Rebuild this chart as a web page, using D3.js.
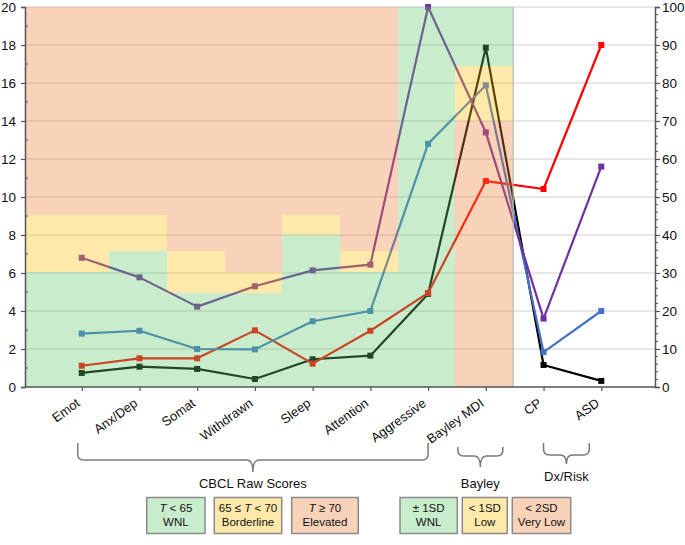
<!doctype html>
<html lang="en">
<head>
<meta charset="utf-8" />
<title>CBCL raw scores, Bayley MDI and Dx/Risk</title>
<script src="https://cdn.jsdelivr.net/npm/d3@7"></script>
<style>
  body { margin: 0; background: #fff; }
  text { font-family: "Liberation Sans", Arial, sans-serif; fill: #111; }
</style>
</head>
<body>
<script>
var categories = ["Emot", "Anx/Dep", "Somat", "Withdrawn", "Sleep", "Attention", "Aggressive", "Bayley MDI", "CP", "ASD"];
var cbclCategories = categories.slice(0, 7);

// CBCL raw-score cut-offs per scale (left axis): T = 65 and T = 70
var cbclBorderlineFrom = [6.05, 7.15, 4.95, 4.95, 8.0, 6.05, 20];
var cbclElevatedFrom = [9.05, 9.05, 7.15, 6.05, 9.05, 7.15, 20];
// Bayley MDI cut-offs (right axis)
var bayleyVeryLowBelow = 70;
var bayleyLowBelow = 84.5;

var leftTicks = [0, 2, 4, 6, 8, 10, 12, 14, 16, 18, 20];
var rightTicks = [0, 10, 20, 30, 40, 50, 60, 70, 80, 90, 100];

// seven CBCL raw scores (left axis), then Bayley MDI, CP, ASD (right axis)
var purpleCbcl = [6.8, 5.77, 4.23, 5.3, 6.14, 6.44, 20];
var purpleRight = [67, 18, 58];
var blueCbcl = [2.81, 2.96, 2.0, 1.98, 3.46, 4.0, 12.8];
var blueRight = [79.4, 9.2, 20];
var redCbcl = [1.12, 1.51, 1.51, 2.98, 1.23, 2.96, 4.95];
var redRight = [54.2, 52.1, 90];
var blackCbcl = [0.74, 1.07, 0.95, 0.42, 1.46, 1.65, 4.9];
var blackRight = [89.3, 5.8, 1.6];

var legendCbcl = [["T < 65", "WNL"], ["65 \u2264 T < 70", "Borderline"], ["T \u2265 70", "Elevated"]];
var legendBayley = [["\u00b1 1SD", "WNL"], ["< 1SD", "Low"], ["< 2SD", "Very Low"]];

var w = 685, h = 545;
var plotL = 25, plotR = 655, plotT = 7, plotB = 387;

var zoneFill = { wnl: "rgb(98,201,109)", border: "rgb(252,189,12)", high: "rgb(235,126,55)" };
var boxFill = { wnl: "#c8eccc", border: "#fee8aa", high: "#f8d2b9" };

var series = [
  { color: "#000000", cbcl: blackCbcl, right: blackRight },
  { color: "#ff0000", cbcl: redCbcl, right: redRight },
  { color: "#4472c4", cbcl: blueCbcl, right: blueRight },
  { color: "#7030a0", cbcl: purpleCbcl, right: purpleRight }
];

var svg = d3.select("body").append("svg")
  .attr("width", w)
  .attr("height", h);

var x = d3.scalePoint().domain(categories).range([24, 659]).padding(1);
var yL = d3.scaleLinear().domain([0, 20]).range([plotB, plotT]);
var yR = d3.scaleLinear().domain([0, 100]).range([plotB, plotT]);

function mid(a, b) { return (x(a) + x(b)) / 2 - 1.5; }

// gridlines
svg.append("g").selectAll("line")
  .data(leftTicks.slice(1))
  .enter().append("line")
  .attr("x1", plotL).attr("x2", plotR)
  .attr("y1", function(d) { return yL(d); })
  .attr("y2", function(d) { return yL(d); })
  .attr("stroke", "#cfcfcf")
  .attr("stroke-width", 1.2);

// lines and markers
function pts(s) {
  return categories.map(function(c, i) {
    return [x(c), i < 7 ? yL(s.cbcl[i]) : yR(s.right[i - 7])];
  });
}
var line = d3.line();
series.forEach(function(s) {
  var p = pts(s);
  svg.append("path")
    .attr("d", line(p))
    .attr("fill", "none")
    .attr("stroke", s.color)
    .attr("stroke-width", 2.2)
    .attr("stroke-linejoin", "round");
  svg.append("g").selectAll("rect")
    .data(p)
    .enter().append("rect")
    .attr("x", function(d) { return d[0] - 3; })
    .attr("y", function(d) { return d[1] - 3; })
    .attr("width", 6).attr("height", 6)
    .attr("fill", s.color);
});

// translucent clinical ranges laid over the lines
var zones = [];
cbclCategories.forEach(function(c, i) {
  var left = i == 0 ? plotL : mid(categories[i - 1], c);
  var right = mid(c, categories[i + 1]);
  zones.push({ x0: left, x1: right, y0: yL(0), y1: yL(cbclBorderlineFrom[i]), k: "wnl" });
  zones.push({ x0: left, x1: right, y0: yL(cbclBorderlineFrom[i]), y1: yL(cbclElevatedFrom[i]), k: "border" });
  zones.push({ x0: left, x1: right, y0: yL(cbclElevatedFrom[i]), y1: yL(20), k: "high" });
});
var bL = mid("Aggressive", "Bayley MDI"), bR = mid("Bayley MDI", "CP");
zones.push({ x0: bL, x1: bR, y0: yR(0), y1: yR(bayleyVeryLowBelow), k: "high" });
zones.push({ x0: bL, x1: bR, y0: yR(bayleyVeryLowBelow), y1: yR(bayleyLowBelow), k: "border" });
zones.push({ x0: bL, x1: bR, y0: yR(bayleyLowBelow), y1: yR(100), k: "wnl" });

svg.append("g").selectAll("rect")
  .data(zones.filter(function(z) { return z.y0 - z.y1 > 0.1; }))
  .enter().append("rect")
  .attr("x", function(d) { return d.x0; })
  .attr("y", function(d) { return d.y1; })
  .attr("width", function(d) { return d.x1 - d.x0; })
  .attr("height", function(d) { return d.y0 - d.y1; })
  .attr("fill", function(d) { return zoneFill[d.k]; })
  .attr("fill-opacity", 0.35)
  .attr("shape-rendering", "crispEdges");

svg.append("line")
  .attr("x1", bR).attr("x2", bR)
  .attr("y1", plotT).attr("y2", plotB)
  .attr("stroke", "#b8b8b8").attr("stroke-width", 1.2);

// axes
var axisColor = "#555";
var gL = svg.append("g").attr("transform", "translate(" + plotL + ",0)")
  .call(d3.axisLeft(yL).tickValues(leftTicks).tickSize(4).tickPadding(5).tickFormat(d3.format("d")));
var gR = svg.append("g").attr("transform", "translate(" + plotR + ",0)")
  .call(d3.axisRight(yR).tickValues(rightTicks).tickSize(5).tickPadding(2).tickFormat(d3.format("d")));
[gL, gR].forEach(function(g) {
  g.select(".domain").attr("stroke", axisColor).attr("stroke-width", 1.5);
  g.selectAll(".tick line").attr("stroke", axisColor).attr("stroke-width", 1.2);
  g.selectAll(".tick text").attr("font-size", "13.5px").attr("fill", "#111")
    .attr("font-family", "Liberation Sans, Arial, sans-serif");
});

// minor ticks
svg.append("g").selectAll("line")
  .data(d3.range(1, 20, 2))
  .enter().append("line")
  .attr("x1", plotL).attr("x2", plotL + 3)
  .attr("y1", function(d) { return yL(d); }).attr("y2", function(d) { return yL(d); })
  .attr("stroke", axisColor);
svg.append("g").selectAll("line")
  .data(d3.range(2, 100, 2).filter(function(d) { return d % 10 != 0; }))
  .enter().append("line")
  .attr("x1", plotR).attr("x2", plotR + 3)
  .attr("y1", function(d) { return yR(d); }).attr("y2", function(d) { return yR(d); })
  .attr("stroke", axisColor);

svg.append("line")
  .attr("x1", plotL).attr("x2", plotR)
  .attr("y1", plotB).attr("y2", plotB)
  .attr("stroke", axisColor).attr("stroke-width", 1.5);

var gX = svg.append("g").attr("transform", "translate(0," + plotB + ")")
  .call(d3.axisBottom(x).tickSize(4).tickFormat(""));
gX.select(".domain").remove();
gX.selectAll(".tick line").attr("stroke", axisColor).attr("stroke-width", 1.2);

svg.append("g").selectAll("text")
  .data(categories)
  .enter().append("text")
  .attr("transform", function(d) { return "translate(" + (x(d) - 1) + "," + (plotB + 18) + ") rotate(-36)"; })
  .attr("text-anchor", "end")
  .attr("font-size", "13px")
  .text(function(d) { return d; });

// braces
function brace(x1, x2, xc, yTop, yFlat, yTip) {
  var r = 6;
  return "M" + x1 + "," + yTop +
    "L" + x1 + "," + (yFlat - r) +
    "Q" + x1 + "," + yFlat + " " + (x1 + r) + "," + yFlat +
    "L" + (xc - r) + "," + yFlat +
    "Q" + xc + "," + yFlat + " " + xc + "," + yTip +
    "Q" + xc + "," + yFlat + " " + (xc + r) + "," + yFlat +
    "L" + (x2 - r) + "," + yFlat +
    "Q" + x2 + "," + yFlat + " " + x2 + "," + (yFlat - r) +
    "L" + x2 + "," + yTop;
}
var braces = [
  { d: brace(x("Emot") - 4, x("Aggressive"), (x("Emot") - 4 + x("Aggressive")) / 2, 443, 460, 472), label: "CBCL Raw Scores", ty: 488 },
  { d: brace(x("Bayley MDI") - 28, x("Bayley MDI") + 17, x("Bayley MDI") - 5.5, 447, 456, 467), label: "Bayley", ty: 488, cx: x("Bayley MDI") - 5.5 },
  { d: brace(x("CP"), x("ASD") - 12, (x("CP") + x("ASD") - 12) / 2, 443, 455, 464), label: "Dx/Risk", ty: 481, cx: (x("CP") + x("ASD") - 12) / 2 }
];
braces[0].cx = (x("Emot") - 4 + x("Aggressive")) / 2;
braces.forEach(function(b) {
  svg.append("path").attr("d", b.d)
    .attr("fill", "none").attr("stroke", "#7a7a7a").attr("stroke-width", 1.5);
  svg.append("text").attr("x", b.cx).attr("y", b.ty)
    .attr("text-anchor", "middle").attr("font-size", "13px").text(b.label);
});

// legend boxes
var boxX = [146.7, 214.3, 291.7, 400, 462.3, 512.3];
var boxW = [58.3, 67.4, 66.6, 57.3, 45, 58.4];
var boxK = ["wnl", "border", "high", "wnl", "border", "high"];
var legendItems = legendCbcl.concat(legendBayley);
legendItems.forEach(function(lines, i) {
  svg.append("rect")
    .attr("x", boxX[i]).attr("y", 497.5)
    .attr("width", boxW[i]).attr("height", 36)
    .attr("fill", boxFill[boxK[i]])
    .attr("stroke", "#8a8a8a").attr("stroke-width", 1.5);
  lines.forEach(function(s, j) {
    var t = svg.append("text")
      .attr("x", boxX[i] + boxW[i] / 2)
      .attr("y", 511.5 + j * 14.5)
      .attr("text-anchor", "middle")
      .attr("font-size", "11.5px");
    s.split(/(T)/).forEach(function(part) {
      if (part == "") return;
      t.append("tspan")
        .attr("font-style", part == "T" ? "italic" : "normal")
        .text(part);
    });
  });
});
</script>
</body>
</html>
